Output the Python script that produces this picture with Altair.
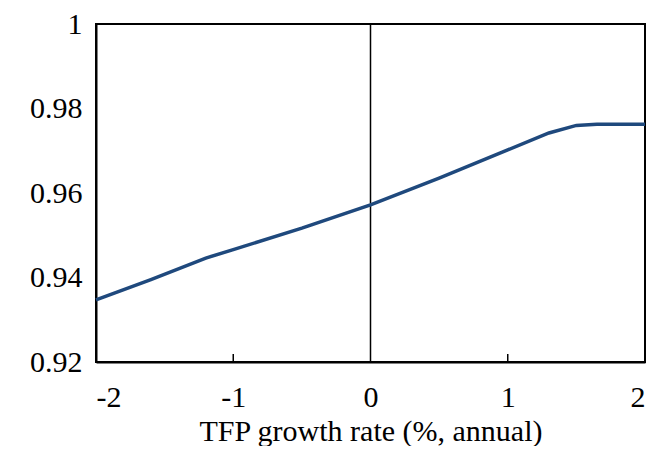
import pandas as pd
import altair as alt

tfp = [-2.0, -1.6, -1.2, -1.0, -0.5, 0.0, 0.5, 1.0, 1.3, 1.5, 1.65, 2.0]
ratio = [0.9347, 0.9395, 0.9446, 0.9466, 0.9517, 0.9572, 0.9635, 0.9702, 0.9742, 0.9760, 0.9763, 0.9763]
x_ticks = [-1, 1]

df = pd.DataFrame({"tfp": tfp, "ratio": ratio})
font = "Liberation Serif"

line = alt.Chart(df).mark_line(color="#1F497D", strokeWidth=3.5).encode(
    x=alt.X("tfp:Q", scale=alt.Scale(domain=[-2, 2], nice=False),
            axis=alt.Axis(title="TFP growth rate (%, annual)", values=[-2, -1, 0, 1, 2],
                          labelExpr="replace(format(datum.value, 'd'), '−', '-')",
                          labelFont=font, titleFont=font, labelFontSize=30, titleFontSize=30,
                          grid=False, tickSize=0, domainColor="black", domainWidth=2,
                          labelPadding=20, titlePadding=4)),
    y=alt.Y("ratio:Q", scale=alt.Scale(domain=[0.92, 1.0], nice=False, zero=False),
            axis=alt.Axis(title=None, values=[0.92, 0.94, 0.96, 0.98, 1.0],
                          labelExpr="datum.value == 1 ? '1' : format(datum.value, '.2f')",
                          labelFont=font, labelFontSize=30,
                          grid=False, tickSize=0, domainColor="black", domainWidth=2,
                          labelPadding=14))
)

zero = alt.Chart(pd.DataFrame({"x": [0]})).mark_rule(color="black", strokeWidth=1.5).encode(x="x:Q")
ticks = alt.Chart(pd.DataFrame({"x": x_ticks})).mark_rule(color="black", strokeWidth=1.5).encode(
    x="x:Q", y=alt.value(330), y2=alt.value(338))

chart = (zero + ticks + line).properties(
    width=549, height=338,
    autosize=alt.AutoSizeParams(type="none"),
    padding={"left": 88, "top": 16, "right": 3, "bottom": 84},
).configure_view(stroke="black", strokeWidth=2).configure_axis(
    labelColor="black", titleColor="black", titleFontWeight="normal"
)

chart.save("out.html", embed_options={"renderer": "svg", "actions": False})
